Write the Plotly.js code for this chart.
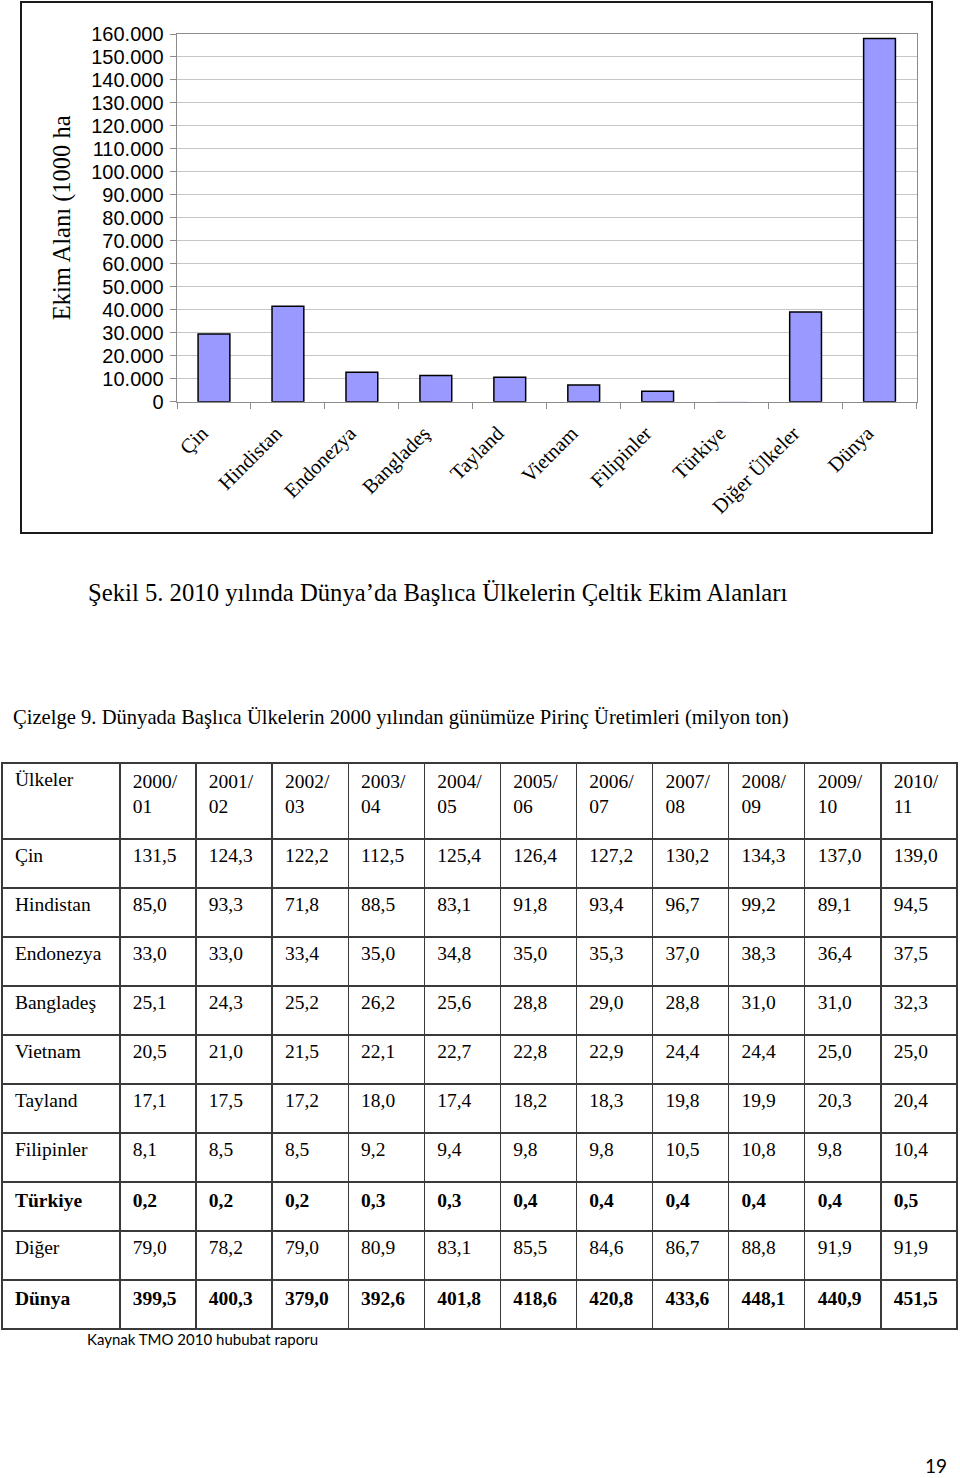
<!DOCTYPE html>
<html>
<head>
<meta charset="utf-8">
<script src="https://cdn.plot.ly/plotly-3.0.1.min.js"></script>
<style>
  html, body { margin: 0; padding: 0; background: #ffffff; }
  #page { width: 960px; height: 1478px; }
</style>
</head>
<body>
<div id="page"></div>
<script>
// ---- Chart data: 2010 rice planting area (1000 ha) ----
const countries = ['Çin', 'Hindistan', 'Endonezya', 'Bangladeş', 'Tayland', 'Vietnam', 'Filipinler', 'Türkiye', 'Diğer Ülkeler', 'Dünya'];
const areaHa = [29500, 41500, 12800, 11400, 10600, 7300, 4600, 100, 39000, 158000];
const yTickValues = [0, 10000, 20000, 30000, 40000, 50000, 60000, 70000, 80000, 90000, 100000, 110000, 120000, 130000, 140000, 150000, 160000];

// ---- Table data: rice production (million tons) ----
const seasons = ['2000/01', '2001/02', '2002/03', '2003/04', '2004/05', '2005/06', '2006/07', '2007/08', '2008/09', '2009/10', '2010/11'];
const tableCountries = ['Çin', 'Hindistan', 'Endonezya', 'Bangladeş', 'Vietnam', 'Tayland', 'Filipinler', 'Türkiye', 'Diğer', 'Dünya'];
const cin        = [131.5, 124.3, 122.2, 112.5, 125.4, 126.4, 127.2, 130.2, 134.3, 137.0, 139.0];
const hindistan  = [85.0, 93.3, 71.8, 88.5, 83.1, 91.8, 93.4, 96.7, 99.2, 89.1, 94.5];
const endonezya  = [33.0, 33.0, 33.4, 35.0, 34.8, 35.0, 35.3, 37.0, 38.3, 36.4, 37.5];
const banglades  = [25.1, 24.3, 25.2, 26.2, 25.6, 28.8, 29.0, 28.8, 31.0, 31.0, 32.3];
const vietnam    = [20.5, 21.0, 21.5, 22.1, 22.7, 22.8, 22.9, 24.4, 24.4, 25.0, 25.0];
const tayland    = [17.1, 17.5, 17.2, 18.0, 17.4, 18.2, 18.3, 19.8, 19.9, 20.3, 20.4];
const filipinler = [8.1, 8.5, 8.5, 9.2, 9.4, 9.8, 9.8, 10.5, 10.8, 9.8, 10.4];
const turkiye    = [0.2, 0.2, 0.2, 0.3, 0.3, 0.4, 0.4, 0.4, 0.4, 0.4, 0.5];
const diger      = [79.0, 78.2, 79.0, 80.9, 83.1, 85.5, 84.6, 86.7, 88.8, 91.9, 91.9];
const dunya      = [399.5, 400.3, 379.0, 392.6, 401.8, 418.6, 420.8, 433.6, 448.1, 440.9, 451.5];
const tableRows = [cin, hindistan, endonezya, banglades, vietnam, tayland, filipinler, turkiye, diger, dunya];
const boldRows = ['Türkiye', 'Dünya'];

// ---- Texts ----
const yTitle = 'Ekim Alanı (1000 ha';
const figCaption = 'Şekil 5. 2010 yılında Dünya’da Başlıca Ülkelerin Çeltik Ekim Alanları';
const tableCaption = 'Çizelge 9. Dünyada Başlıca Ülkelerin 2000 yılından günümüze Pirinç Üretimleri (milyon ton)';
const sourceNote = 'Kaynak TMO 2010 hububat raporu';
const pageNumber = '19';

// ---- Page geometry helpers (pixel -> paper) ----
const W = 960, H = 1478;
const px = x => x / W;
const py = y => 1 - y / H;

const serif = 'Liberation Serif, Times New Roman, serif';
const sans = 'Liberation Sans, Arial, sans-serif';
const calibriLike = 'Lato, Open Sans, sans-serif';

// ---- Build table columns ----
const pad = '\u2005';
const fmt = v => v.toFixed(1).replace('.', ',');
const wrapBold = (name, s) => boldRows.indexOf(name) >= 0 ? '<b>' + s + '</b>' : s;
const headerVals = ['Ülkeler'].concat(seasons.map(s => s.replace('/', '/<br>' + pad))).map(s => pad + s);
const colFirst = tableCountries.map(n => pad + wrapBold(n, n));
const cellCols = [colFirst];
seasons.forEach((s, j) => {
  cellCols.push(tableRows.map((row, i) => pad + wrapBold(tableCountries[i], fmt(row[j]))));
});
const colWidths = [118].concat(seasons.map(() => 76.2));

const barTrace = {
  type: 'bar',
  x: countries,
  y: areaHa,
  xaxis: 'x', yaxis: 'y',
  marker: {
    color: '#9999ff',
    line: { color: '#000000', width: areaHa.map(v => (v < 500 ? 0 : 1.5)) }
  },
  hoverinfo: 'skip'
};

const tableTrace = {
  type: 'table',
  domain: { x: [px(2), px(957.5)], y: [py(1400), py(763)] },
  columnwidth: colWidths,
  header: {
    values: headerVals,
    align: 'left',
    height: 76,
    fill: { color: '#ffffff' },
    line: { color: '#3a3a3a', width: 1.3 },
    font: { family: serif, size: 19.5, color: '#000000' }
  },
  cells: {
    values: cellCols,
    align: 'left',
    height: 49,
    fill: { color: '#ffffff' },
    line: { color: '#3a3a3a', width: 1.3 },
    font: { family: serif, size: 19.5, color: '#000000' }
  }
};

const layout = {
  width: W, height: H,
  margin: { l: 0, r: 0, t: 0, b: 0, pad: 0 },
  paper_bgcolor: '#ffffff',
  plot_bgcolor: '#ffffff',
  showlegend: false,
  separators: ',.',
  bargap: 0.57,
  xaxis: {
    domain: [px(177), px(916.5)],
    type: 'category',
    showline: true, linecolor: '#8c8c8c', linewidth: 1.5, mirror: true,
    ticks: 'outside', tickson: 'boundaries', ticklen: 6, tickcolor: '#8c8c8c', tickwidth: 1,
    tickangle: -45,
    ticklabelstandoff: 10,
    ticklabelshift: -12,
    tickfont: { family: serif, size: 20.5, color: '#000000' },
    showgrid: false, zeroline: false, automargin: false, fixedrange: true
  },
  yaxis: {
    domain: [py(401.7), py(34)],
    range: [0, 160000],
    tickvals: yTickValues,
    tickformat: ',d',
    showline: true, linecolor: '#8c8c8c', linewidth: 1.5, mirror: true,
    ticks: 'outside', ticklen: 6, tickcolor: '#8c8c8c', tickwidth: 1,
    ticklabelstandoff: 2,
    tickfont: { family: sans, size: 20, color: '#000000' },
    showgrid: true, gridcolor: '#c6c6c6', gridwidth: 1,
    zeroline: false, automargin: false, fixedrange: true,
    title: { text: yTitle, font: { family: serif, size: 24.5, color: '#000000' }, standoff: 13 }
  },
  shapes: [
    { type: 'rect', xref: 'paper', yref: 'paper', x0: px(21), x1: px(932), y0: py(533), y1: py(2),
      line: { color: '#1a1a1a', width: 2 }, fillcolor: 'rgba(0,0,0,0)', layer: 'above' }
  ],
  annotations: [
    { xref: 'paper', yref: 'paper', x: px(86), y: py(592), xanchor: 'left', yanchor: 'middle',
      text: figCaption, showarrow: false, font: { family: serif, size: 24.7, color: '#000000' } },
    { xref: 'paper', yref: 'paper', x: px(11), y: py(718), xanchor: 'left', yanchor: 'middle',
      text: tableCaption, showarrow: false, font: { family: serif, size: 20.6, color: '#000000' } },
    { xref: 'paper', yref: 'paper', x: px(85), y: py(1339), xanchor: 'left', yanchor: 'middle',
      text: sourceNote, showarrow: false, font: { family: calibriLike, size: 15, color: '#000000' } },
    { xref: 'paper', yref: 'paper', x: px(949), y: py(1465), xanchor: 'right', yanchor: 'middle',
      text: pageNumber, showarrow: false, font: { family: calibriLike, size: 19, color: '#000000' } }
  ]
};

Plotly.newPlot('page', [barTrace, tableTrace], layout, { staticPlot: true, displayModeBar: false });
</script>
</body>
</html>
